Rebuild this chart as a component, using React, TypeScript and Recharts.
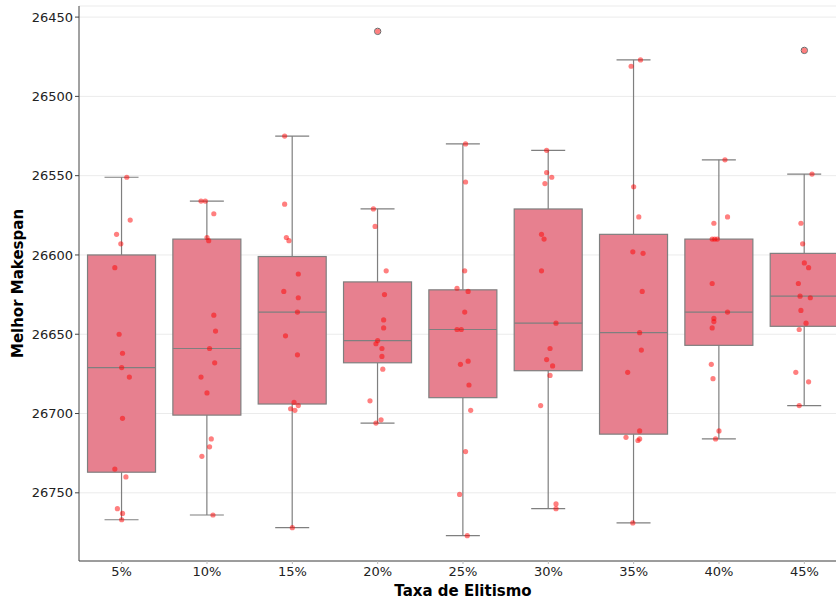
import React from 'react';
import { ComposedChart, Bar, Scatter, XAxis, YAxis, CartesianGrid } from 'recharts';

const categories = ['5%', '10%', '15%', '20%', '25%', '30%', '35%', '40%', '45%'];

// box statistics (lower value = better makespan)
const whiskerLow = [26551, 26566, 26525, 26571, 26530, 26534, 26477, 26540, 26549];
const q1 = [26600, 26590, 26601, 26617, 26622, 26571, 26587, 26590, 26599];
const median = [26671, 26659, 26636, 26654, 26647, 26643, 26649, 26636, 26626];
const q3 = [26737, 26701, 26694, 26668, 26690, 26673, 26713, 26657, 26645];
const whiskerHigh = [26767, 26764, 26772, 26706, 26777, 26760, 26769, 26716, 26695];

// fliers: [category index, value]
const outliers: [number, number][] = [
  [3, 26459],
  [8, 26471],
];

// individual runs per category
const runValues = [
  [26551, 26578, 26587, 26593, 26608, 26650, 26662, 26671, 26677, 26703, 26735, 26740, 26760, 26763, 26767],
  [26566, 26566, 26574, 26589, 26591, 26638, 26648, 26659, 26668, 26677, 26687, 26716, 26721, 26727, 26764],
  [26525, 26568, 26589, 26591, 26612, 26623, 26627, 26636, 26651, 26663, 26693, 26695, 26697, 26698, 26772],
  [26459, 26571, 26582, 26610, 26625, 26641, 26646, 26654, 26656, 26659, 26664, 26672, 26692, 26704, 26706],
  [26530, 26554, 26610, 26621, 26623, 26636, 26647, 26647, 26667, 26669, 26682, 26698, 26724, 26751, 26777],
  [26534, 26548, 26551, 26555, 26587, 26590, 26610, 26643, 26659, 26666, 26670, 26676, 26695, 26757, 26760],
  [26477, 26481, 26557, 26576, 26598, 26599, 26623, 26649, 26660, 26674, 26711, 26715, 26716, 26717, 26769],
  [26540, 26576, 26580, 26590, 26590, 26590, 26618, 26636, 26640, 26642, 26646, 26669, 26678, 26711, 26716],
  [26471, 26549, 26580, 26593, 26605, 26608, 26618, 26626, 26627, 26635, 26643, 26647, 26674, 26680, 26695],
];

// strip-plot jitter (category units)
const runJitter = [
  [0.06, 0.1, -0.06, -0.01, -0.08, -0.03, 0.01, 0.0, 0.09, 0.01, -0.08, 0.05, -0.05, 0.01, 0.0],
  [-0.07, -0.02, 0.08, 0.0, 0.02, 0.08, 0.1, 0.03, 0.09, -0.07, 0.0, 0.05, 0.03, -0.06, 0.07],
  [-0.09, -0.09, -0.07, -0.04, 0.07, -0.1, 0.07, 0.06, -0.08, 0.06, 0.02, 0.07, -0.02, 0.03, 0.0],
  [0.0, -0.05, -0.03, 0.1, 0.08, 0.07, 0.07, 0.0, -0.02, 0.05, 0.05, 0.06, -0.09, 0.04, -0.02],
  [0.03, 0.03, 0.02, -0.07, 0.06, 0.02, -0.07, -0.02, 0.06, -0.03, 0.07, 0.09, 0.03, -0.04, 0.05],
  [-0.02, -0.02, 0.04, -0.04, -0.08, -0.05, -0.08, 0.09, 0.02, -0.02, 0.05, 0.02, -0.09, 0.09, 0.09],
  [0.08, -0.03, 0.0, 0.06, -0.01, 0.11, 0.1, 0.07, 0.09, -0.07, 0.07, -0.09, 0.07, 0.05, -0.01],
  [0.07, 0.1, -0.06, -0.08, -0.05, -0.02, -0.08, 0.1, -0.06, -0.06, -0.08, -0.09, -0.07, 0.0, -0.04],
  [0.0, 0.09, -0.04, -0.02, 0.0, 0.05, -0.07, -0.05, 0.07, -0.04, 0.02, -0.06, -0.1, 0.05, -0.06],
];

const yTicks = [26450, 26500, 26550, 26600, 26650, 26700, 26750];

const rows = categories.map((label, i) => ({
  label,
  range: [whiskerLow[i], whiskerHigh[i]],
  lo: whiskerLow[i],
  q1: q1[i],
  med: median[i],
  q3: q3[i],
  hi: whiskerHigh[i],
}));

const points = runValues.flatMap((vals, i) => vals.map((v, j) => ({ x: i + runJitter[i][j], y: v })));
const fliers = outliers.map(([i, v]) => ({ x: i, y: v }));

const BOX_FILL = '#e7808f';
const EDGE = '#7f7f7f';
const FONT = '"DejaVu Sans", sans-serif';

function BoxShape(props: any) {
  const { x, y, width, height, payload } = props;
  const top = Math.min(y, y + height);
  const bottom = Math.max(y, y + height);
  const py = (v: number) => top + ((bottom - top) * (v - payload.lo)) / (payload.hi - payload.lo);
  const cx = x + width / 2;
  const cap = width / 4;
  const yq1 = py(payload.q1);
  const yq3 = py(payload.q3);
  const ymed = py(payload.med);
  return (
    <g>
      <line x1={cx} x2={cx} y1={top} y2={yq1} stroke={EDGE} strokeWidth={1.2} />
      <line x1={cx} x2={cx} y1={yq3} y2={bottom} stroke={EDGE} strokeWidth={1.2} />
      <line x1={cx - cap} x2={cx + cap} y1={top} y2={top} stroke={EDGE} strokeWidth={1.2} />
      <line x1={cx - cap} x2={cx + cap} y1={bottom} y2={bottom} stroke={EDGE} strokeWidth={1.2} />
      <rect x={x} y={Math.min(yq1, yq3)} width={width} height={Math.abs(yq3 - yq1)} fill={BOX_FILL} stroke={EDGE} strokeWidth={1.2} />
      <line x1={x} x2={x + width} y1={ymed} y2={ymed} stroke={EDGE} strokeWidth={1.2} />
    </g>
  );
}

const RunDot = (p: any) => <circle cx={p.cx} cy={p.cy} r={2.6} fill="#ff0000" fillOpacity={0.5} />;
const FlierDot = (p: any) => <circle cx={p.cx} cy={p.cy} r={3.2} fill="none" stroke="#666" strokeWidth={1} />;

export default function App() {
  return (
    <div style={{ position: 'absolute', left: 0, top: 0, width: 836, height: 603, overflow: 'hidden', background: '#fff' }}>
      <ComposedChart width={862} height={603} data={rows} margin={{ top: 6, right: 15, bottom: 0, left: 0 }} barCategoryGap="10%">
        <CartesianGrid vertical={false} stroke="#ebebeb" />
        <XAxis
          dataKey="label"
          xAxisId="cat"
          height={42}
          tickSize={3}
          tickMargin={3}
          tickLine={{ stroke: '#bbb' }}
          axisLine={{ stroke: '#444' }}
          tick={{ fontSize: 13, fontFamily: FONT, fill: '#222' }}
          label={{
            content: (p: any) => (
              <text x={p.viewBox.x + p.viewBox.width / 2} y={596} textAnchor="middle" fontFamily={FONT} fontSize={15} fontWeight="bold" fill="#000">
                Taxa de Elitismo
              </text>
            ),
          }}
        />
        <XAxis
          xAxisId="num"
          dataKey="x"
          type="number"
          orientation="top"
          domain={[-0.5, 8.5]}
          allowDataOverflow
          height={0}
          tick={false}
          tickLine={false}
          axisLine={{ stroke: '#444' }}
        />
        <YAxis
          type="number"
          reversed
          domain={[26443, 26793]}
          allowDataOverflow
          ticks={yTicks}
          width={79}
          tickSize={4}
          tickLine={{ stroke: '#444' }}
          axisLine={{ stroke: '#444' }}
          tick={{ fontSize: 13, fontFamily: FONT, fill: '#222' }}
          label={{
            content: (p: any) => {
              const cy = p.viewBox.y + p.viewBox.height / 2;
              return (
                <text x={23} y={cy} transform={`rotate(-90 23 ${cy})`} textAnchor="middle" fontFamily={FONT} fontSize={15} fontWeight="bold" fill="#000">
                  Melhor Makespan
                </text>
              );
            },
          }}
        />
        <Bar xAxisId="cat" dataKey="range" shape={BoxShape} isAnimationActive={false} />
        <Scatter xAxisId="num" data={fliers} dataKey="y" shape={FlierDot} isAnimationActive={false} />
        <Scatter xAxisId="num" data={points} dataKey="y" shape={RunDot} isAnimationActive={false} />
      </ComposedChart>
    </div>
  );
}
